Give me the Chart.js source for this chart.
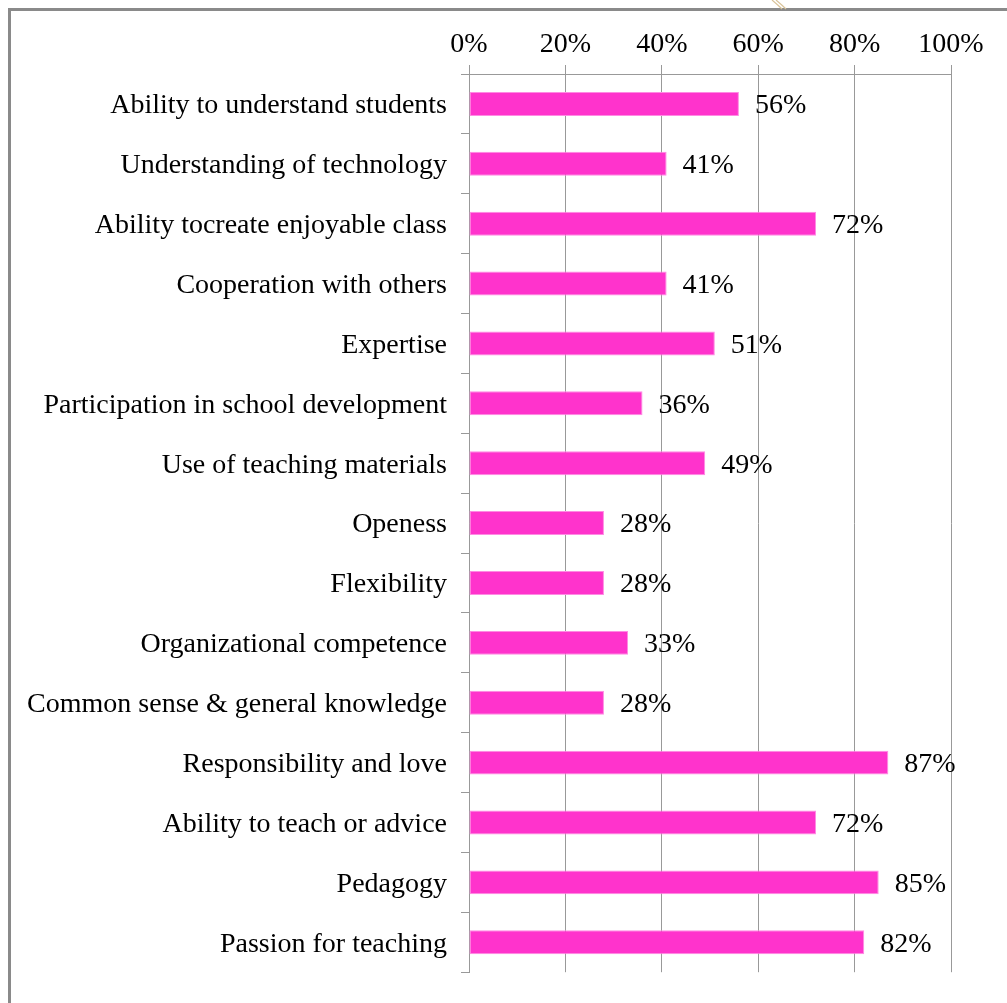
<!DOCTYPE html>
<html>
<head>
<meta charset="utf-8">
<script src="https://cdn.jsdelivr.net/npm/chart.js@4/dist/chart.umd.min.js"></script>
<style>
    html, body { margin: 0; padding: 0; background: #fff; }
    #wrap { position: relative; width: 1007px; height: 1003px; overflow: hidden; }
    #frame {
        position: absolute; left: 8px; top: 8px; width: 1100px; height: 1100px;
        border-left: 3px solid #8a8a8a; border-top: 3px solid #8a8a8a;
    }
    #deco { position: absolute; left: 770px; top: 0; }
    canvas { position: absolute; left: 0; top: 0; }
</style>
</head>
<body>
<div id="wrap">
    <div id="frame"></div>
    <svg id="deco" width="30" height="10">
        <path d="M2,0 Q8,5 12,9" stroke="#d9c39a" stroke-width="1.2" fill="none"/>
        <path d="M6,0 Q12,5 16,9" stroke="#d9c39a" stroke-width="1.2" fill="none"/>
    </svg>
    <canvas id="skillsChart" width="1007" height="1003"></canvas>
</div>
<script>
// Chart data
const categories = [
    'Ability to understand students',
    'Understanding of technology',
    'Ability tocreate enjoyable class',
    'Cooperation with others',
    'Expertise',
    'Participation in school development',
    'Use of teaching materials',
    'Openess',
    'Flexibility',
    'Organizational competence',
    'Common sense & general knowledge',
    'Responsibility and love',
    'Ability to teach or advice',
    'Pedagogy',
    'Passion for teaching'
];
const percentValues = [56, 41, 72, 41, 51, 36, 49, 28, 28, 33, 28, 87, 72, 85, 82];
const xTicks = [0, 20, 40, 60, 80, 100];

const FONT = 'Liberation Serif, Times New Roman, serif';

// draws the "56%" style labels at the end of each bar
const valueLabels = {
    id: 'valueLabels',
    afterDatasetsDraw(chart) {
        const ctx = chart.ctx;
        const meta = chart.getDatasetMeta(0);
        ctx.save();
        ctx.font = '28px ' + FONT;
        ctx.fillStyle = '#000';
        ctx.textAlign = 'left';
        ctx.textBaseline = 'middle';
        meta.data.forEach(function (bar, i) {
            ctx.fillText(percentValues[i] + '%', bar.x + 16, bar.y + 2);
        });
        ctx.restore();
    }
};

function initSkillsChart() {
    const ctx = document.getElementById('skillsChart');

    new Chart(ctx, {
        type: 'bar',
        data: {
            labels: categories,
            datasets: [{
                data: percentValues,
                backgroundColor: '#ff33cc',
                borderColor: '#ff8ae3',
                borderWidth: 1,
                borderSkipped: false,
                barPercentage: 0.4,
                categoryPercentage: 1.0
            }]
        },
        options: {
            indexAxis: 'y',
            responsive: false,
            animation: false,
            layout: {
                padding: { left: 0, top: 0, right: 56, bottom: 29 }
            },
            plugins: {
                legend: { display: false },
                tooltip: { enabled: false }
            },
            scales: {
                x: {
                    position: 'top',
                    min: 0,
                    max: 100,
                    afterBuildTicks: function (scale) {
                        scale.ticks = xTicks.map(function (v) { return { value: v }; });
                    },
                    afterFit: function (scale) {
                        scale.height = 74;
                    },
                    grid: {
                        color: '#999999',
                        lineWidth: 1,
                        tickLength: 9
                    },
                    border: { color: '#999999', width: 1 },
                    ticks: {
                        color: '#000',
                        padding: 4,
                        font: { family: FONT, size: 28 },
                        callback: function (v) { return v + '%'; }
                    }
                },
                y: {
                    afterFit: function (scale) {
                        scale.width = 469;
                    },
                    grid: {
                        offset: true,
                        drawOnChartArea: false,
                        color: '#999999',
                        tickLength: 8
                    },
                    border: { color: '#999999', width: 1 },
                    ticks: {
                        color: '#000',
                        padding: 14,
                        labelOffset: 2,
                        font: { family: FONT, size: 28 }
                    }
                }
            }
        },
        plugins: [valueLabels]
    });
}

document.addEventListener('DOMContentLoaded', initSkillsChart);
</script>
</body>
</html>
